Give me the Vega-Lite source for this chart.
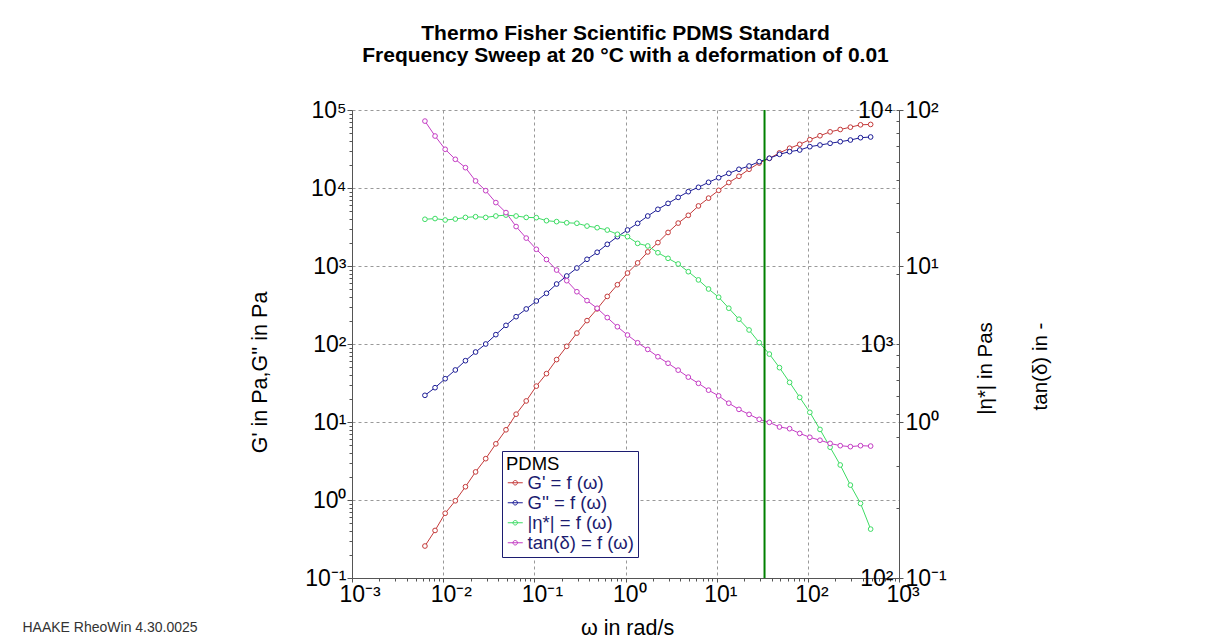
{
  "$schema": "https://vega.github.io/schema/vega-lite/v6.json",
  "autosize": "none",
  "width": 547,
  "height": 468,
  "padding": {"left": 352, "top": 110, "right": 313, "bottom": 62},
  "background": "white",
  "config": {
    "font": "Liberation Sans",
    "view": {"stroke": null},
    "axis": {"labelFont": "Liberation Sans", "titleFont": "Liberation Sans", "labelColor": "black", "titleColor": "black", "titleFontWeight": "normal", "domainColor": "#555555", "tickColor": "#555555", "labelFlush": false, "labelOverlap": false}
  },
  "title": {
    "text": ["Thermo Fisher Scientific PDMS Standard", "Frequency Sweep at 20 °C with a deformation of 0.01"],
    "fontSize": 21, "font": "Liberation Sans", "fontWeight": "bold", "color": "black",
    "anchor": "middle", "frame": "group", "offset": 33, "lineHeight": 22
  },
  "data": {
    "values": [
      {"w": 0.00631, "gp": 0.257, "gpp": 21.98, "eta": 3412, "tan": 84.9},
      {"w": 0.008147, "gp": 0.407, "gpp": 27.54, "eta": 3436, "tan": 68.1},
      {"w": 0.01052, "gp": 0.676, "gpp": 35.89, "eta": 3388, "tan": 56.0},
      {"w": 0.01359, "gp": 0.977, "gpp": 46.45, "eta": 3420, "tan": 48.3},
      {"w": 0.01755, "gp": 1.479, "gpp": 61.09, "eta": 3475, "tan": 42.7},
      {"w": 0.02267, "gp": 2.291, "gpp": 78.89, "eta": 3499, "tan": 35.1},
      {"w": 0.02929, "gp": 3.388, "gpp": 100.0, "eta": 3475, "tan": 30.4},
      {"w": 0.03783, "gp": 5.248, "gpp": 131.8, "eta": 3524, "tan": 25.5},
      {"w": 0.04886, "gp": 7.943, "gpp": 173.4, "eta": 3556, "tan": 22.0},
      {"w": 0.0631, "gp": 12.59, "gpp": 223.9, "eta": 3524, "tan": 17.9},
      {"w": 0.08147, "gp": 18.62, "gpp": 281.2, "eta": 3475, "tan": 15.1},
      {"w": 0.1052, "gp": 28.84, "gpp": 355.6, "eta": 3467, "tan": 12.8},
      {"w": 0.1359, "gp": 41.69, "gpp": 446.7, "eta": 3365, "tan": 11.0},
      {"w": 0.1755, "gp": 63.1, "gpp": 587.5, "eta": 3334, "tan": 9.42},
      {"w": 0.2267, "gp": 93.33, "gpp": 744.7, "eta": 3296, "tan": 8.05},
      {"w": 0.2929, "gp": 138.0, "gpp": 941.9, "eta": 3281, "tan": 6.84},
      {"w": 0.3783, "gp": 199.5, "gpp": 1219, "eta": 3192, "tan": 6.0},
      {"w": 0.4886, "gp": 281.8, "gpp": 1500, "eta": 3141, "tan": 5.36},
      {"w": 0.631, "gp": 407.4, "gpp": 1897, "eta": 3069, "tan": 4.67},
      {"w": 0.8147, "gp": 575.4, "gpp": 2377, "eta": 2944, "tan": 4.08},
      {"w": 1.052, "gp": 812.8, "gpp": 2897, "eta": 2877, "tan": 3.61},
      {"w": 1.359, "gp": 1096, "gpp": 3524, "eta": 2692, "tan": 3.22},
      {"w": 1.755, "gp": 1514, "gpp": 4375, "eta": 2624, "tan": 2.92},
      {"w": 2.267, "gp": 1995, "gpp": 5333, "eta": 2455, "tan": 2.62},
      {"w": 2.929, "gp": 2692, "gpp": 6353, "eta": 2323, "tan": 2.38},
      {"w": 3.783, "gp": 3548, "gpp": 7586, "eta": 2198, "tan": 2.15},
      {"w": 4.886, "gp": 4467, "gpp": 8974, "eta": 2037, "tan": 1.94},
      {"w": 6.31, "gp": 5888, "gpp": 10210, "eta": 1879, "tan": 1.77},
      {"w": 8.147, "gp": 7413, "gpp": 11830, "eta": 1718, "tan": 1.6},
      {"w": 10.52, "gp": 9333, "gpp": 13550, "eta": 1585, "tan": 1.47},
      {"w": 13.59, "gp": 11750, "gpp": 15420, "eta": 1422, "tan": 1.32},
      {"w": 17.55, "gp": 14130, "gpp": 17380, "eta": 1276, "tan": 1.205},
      {"w": 22.67, "gp": 17380, "gpp": 19140, "eta": 1148, "tan": 1.119},
      {"w": 29.29, "gp": 20890, "gpp": 21780, "eta": 1014, "tan": 1.04},
      {"w": 37.83, "gp": 23990, "gpp": 24040, "eta": 905.7, "tan": 0.995},
      {"w": 48.86, "gp": 28180, "gpp": 27040, "eta": 792.5, "tan": 0.929},
      {"w": 63.1, "gp": 32360, "gpp": 29240, "eta": 685.5, "tan": 0.906},
      {"w": 81.47, "gp": 36310, "gpp": 30690, "eta": 591.6, "tan": 0.845},
      {"w": 105.2, "gp": 41690, "gpp": 33880, "eta": 510.5, "tan": 0.798},
      {"w": 135.9, "gp": 46770, "gpp": 35560, "eta": 431.5, "tan": 0.764},
      {"w": 175.5, "gp": 52480, "gpp": 37410, "eta": 362.2, "tan": 0.729},
      {"w": 226.7, "gp": 56230, "gpp": 39260, "eta": 304.1, "tan": 0.705},
      {"w": 292.9, "gp": 60260, "gpp": 41210, "eta": 249.5, "tan": 0.695},
      {"w": 378.3, "gp": 64570, "gpp": 44160, "eta": 208.4, "tan": 0.705},
      {"w": 488.6, "gp": 65310, "gpp": 45080, "eta": 161.8, "tan": 0.701}
    ]
  },
  "resolve": {"scale": {"y": "independent"}, "axis": {"x": "independent", "y": "independent"}},
  "layer": [
    {
      "transform": [{"fold": ["gp", "gpp"], "as": ["s", "v"]}],
      "mark": {"type": "line", "strokeWidth": 1, "point": {"filled": false, "fill": "white", "size": 22, "strokeWidth": 1}},
      "encoding": {
        "x": {"field": "w", "type": "quantitative", "scale": {"type": "log", "domain": [0.001, 1000], "nice": false},
          "axis": {"orient": "bottom", "values": [0.001, 0.01, 0.1, 1, 10, 100, 1000],
            "labelExpr": "'10' + ['⁻³','⁻²','⁻¹','⁰','¹','²','³','⁴','⁵'][round(log(datum.value)/LN10)+3]",
            "labelFontSize": 23, "labelAlign": "left", "labelOffset": -13, "labelPadding": 1, "tickSize": 4,
            "grid": true, "gridDash": [3, 3], "gridColor": "#999999", "gridWidth": 1,
            "title": "ω in rad/s", "titleFontSize": 21.5, "titleX": 275, "titleY": 50, "titleBaseline": "middle", "titleAnchor": null}},
        "y": {"field": "v", "type": "quantitative", "scale": {"type": "log", "domain": [0.1, 100000], "nice": false},
          "axis": {"orient": "left", "values": [0.1, 1, 10, 100, 1000, 10000, 100000],
            "labelExpr": "'10' + ['⁻³','⁻²','⁻¹','⁰','¹','²','³','⁴','⁵'][round(log(datum.value)/LN10)+3]",
            "labelFontSize": 23, "labelPadding": 1, "tickSize": 5, "labelBaseline": "middle",
            "grid": true, "gridDash": [3, 3], "gridColor": "#999999", "gridWidth": 1,
            "title": "G' in Pa,G'' in Pa", "titleFontSize": 21.5, "titleX": -92, "titleY": 262, "titleBaseline": "middle", "titleAngle": 270}},
        "color": {"field": "s", "type": "nominal",
          "scale": {"domain": ["gp", "gpp", "eta", "tan"], "range": ["#c43a3a", "#1c1c96", "#3ddc64", "#c43cc4"]},
          "legend": {"orient": "none", "legendX": 150, "legendY": 341, "title": "PDMS",
            "titleFontSize": 18.5, "titleFont": "Liberation Sans", "titleFontWeight": "normal", "titleColor": "black", "titlePadding": 0,
            "labelExpr": "{'gp': \"G' = f (ω)\", 'gpp': \"G'' = f (ω)\", 'eta': '|η*| = f (ω)', 'tan': 'tan(δ) = f (ω)'}[datum.value]",
            "labelFontSize": 18.5, "labelFont": "Liberation Sans", "labelColor": "#1c1c70", "labelOffset": 3, "labelLimit": 300,
            "symbolType": "M-1,0H1M-0.3,0A0.3,0.3,0,1,0,0.3,0A0.3,0.3,0,1,0,-0.3,0",
            "symbolSize": 225, "symbolStrokeWidth": 1, "symbolFillColor": "white",
            "strokeColor": "#1c1c70", "fillColor": "white", "padding": 4, "rowPadding": 1}}
      }
    },
    {
      "transform": [{"fold": ["eta"], "as": ["s", "v"]}],
      "mark": {"type": "line", "strokeWidth": 1, "point": {"filled": false, "fill": "white", "size": 22, "strokeWidth": 1}},
      "encoding": {
        "x": {"field": "w", "type": "quantitative", "axis": null},
        "y": {"field": "v", "type": "quantitative", "scale": {"type": "log", "domain": [100, 10000], "nice": false},
          "axis": {"orient": "left", "offset": -547, "values": [100, 1000, 10000],
            "labelExpr": "'10' + ['⁻³','⁻²','⁻¹','⁰','¹','²','³','⁴','⁵'][round(log(datum.value)/LN10)+3]",
            "labelFontSize": 23, "labelPadding": 3, "tickSize": 3, "labelBaseline": "middle", "grid": false, "domain": true,
            "title": "|η*| in Pas", "titleFontSize": 20.5, "titleX": 86, "titleY": 258, "titleBaseline": "middle", "titleAngle": 270}},
        "color": {"field": "s", "type": "nominal"}
      }
    },
    {
      "transform": [{"fold": ["tan"], "as": ["s", "v"]}],
      "mark": {"type": "line", "strokeWidth": 1, "point": {"filled": false, "fill": "white", "size": 22, "strokeWidth": 1}},
      "encoding": {
        "x": {"field": "w", "type": "quantitative", "axis": null},
        "y": {"field": "v", "type": "quantitative", "scale": {"type": "log", "domain": [0.1, 100], "nice": false},
          "axis": {"orient": "right", "values": [0.1, 1, 10, 100],
            "labelExpr": "'10' + ['⁻³','⁻²','⁻¹','⁰','¹','²','³','⁴','⁵'][round(log(datum.value)/LN10)+3]",
            "labelFontSize": 23, "labelPadding": 2, "tickSize": 4, "labelBaseline": "middle", "grid": false,
            "title": "tan(δ) in -", "titleFontSize": 20.5, "titleX": 141, "titleY": 256, "titleBaseline": "middle", "titleAngle": 270}},
        "color": {"field": "s", "type": "nominal"}
      }
    },
    {
      "mark": {"type": "point", "opacity": 0},
      "encoding": {
        "x": {"field": "w", "type": "quantitative",
          "axis": {"orient": "bottom", "values": [0.002, 0.003, 0.004, 0.005, 0.006, 0.007, 0.008, 0.009, 0.02, 0.03, 0.04, 0.05, 0.06, 0.07, 0.08, 0.09, 0.2, 0.3, 0.4, 0.5, 0.6, 0.7, 0.8, 0.9, 2, 3, 4, 5, 6, 7, 8, 9, 20, 30, 40, 50, 60, 70, 80, 90, 200, 300, 400, 500, 600, 700, 800, 900],
            "labels": false, "grid": false, "domain": false, "tickSize": 3,
            "title": "HAAKE RheoWin 4.30.0025", "titleFontSize": 14, "titleColor": "#333333", "titleX": -330, "titleY": 49, "titleAlign": "left", "titleAnchor": "start", "titleBaseline": "middle"}},
        "y": {"field": "gp", "type": "quantitative", "scale": {"type": "log", "domain": [0.1, 100000], "nice": false},
          "axis": {"orient": "left", "values": [0.2, 0.3, 0.4, 0.5, 0.6, 0.7, 0.8, 0.9, 2, 3, 4, 5, 6, 7, 8, 9, 20, 30, 40, 50, 60, 70, 80, 90, 200, 300, 400, 500, 600, 700, 800, 900, 2000, 3000, 4000, 5000, 6000, 7000, 8000, 9000, 20000, 30000, 40000, 50000, 60000, 70000, 80000, 90000],
            "labels": false, "grid": false, "domain": false, "tickSize": 3, "title": null}}
      }
    },
    {
      "mark": {"type": "point", "opacity": 0},
      "encoding": {
        "x": {"field": "w", "type": "quantitative", "axis": null},
        "y": {"field": "eta", "type": "quantitative", "scale": {"type": "log", "domain": [100, 10000], "nice": false},
          "axis": {"orient": "left", "offset": -547, "values": [200, 300, 400, 500, 600, 700, 800, 900, 2000, 3000, 4000, 5000, 6000, 7000, 8000, 9000],
            "labels": false, "grid": false, "domain": false, "tickSize": 3, "title": null}}
      }
    },
    {
      "data": {"values": [{"w": 33.5}]},
      "mark": {"type": "rule", "color": "#008000", "strokeWidth": 2},
      "encoding": {
        "x": {"field": "w", "type": "quantitative", "axis": null}
      }
    }
  ]
}
